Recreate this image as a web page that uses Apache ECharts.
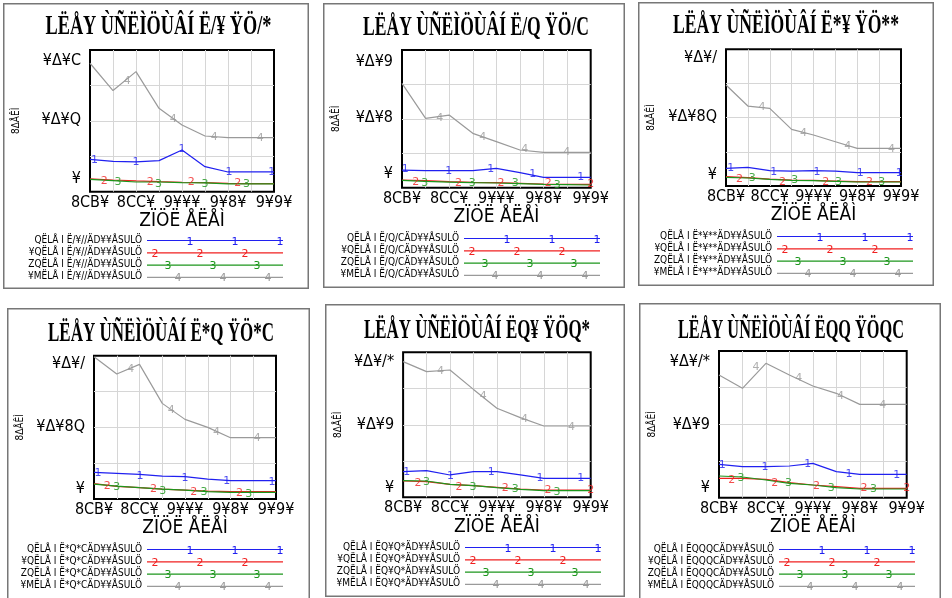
<!DOCTYPE html>
<html>
<head>
<meta charset="utf-8">
<script src="https://cdn.jsdelivr.net/npm/echarts@6/dist/echarts.min.js"></script>
<style>
html, body { margin: 0; padding: 0; background: #fff; width: 952px; height: 598px; overflow: hidden; }
.panel { position: absolute; }
</style>
</head>
<body>
<div id="p1" class="panel"></div>
<div id="p2" class="panel"></div>
<div id="p3" class="panel"></div>
<div id="p4" class="panel"></div>
<div id="p5" class="panel"></div>
<div id="p6" class="panel"></div>
<script>
// shared axis data
const years = [1980, 1985, 1990, 1995, 2000, 2005, 2010, 2015, 2020]
const xTickYears = [1980, 1990, 2000, 2010, 2020]
const xTickLabels = ['8CB¥', '8CC¥', '9¥¥¥', '9¥8¥', '9¥9¥']
const xName = 'ZÏÖË ÅËÅÌ'
const yName = '8ΔÅÊÌ'
const titles = [
    'LËÅY ÙÑËÌÖÙÂÍ Ë/¥ ŸÖ/*',
    'LËÅY ÙÑËÌÖÙÂÍ Ë/Q ŸÖ/C',
    'LËÅY ÙÑËÌÖÙÂÍ Ë*¥ ŸÖ**',
    'LËÅY ÙÑËÌÖÙÂÍ Ë*Q ŸÖ*C',
    'LËÅY ÙÑËÌÖÙÂÍ ËQ¥ ŸÖQ*',
    'LËÅY ÙÑËÌÖÙÂÍ ËQQ ŸÖQC'
]
const legendCodes = ['/¥//', '/Q/C', '*¥**', '*Q*C', 'Q¥Q*', 'QQQC']
const legendPrefixes = ['QËLÅ I Ë', '¥QËLÅ I Ë', 'ZQËLÅ I Ë', '¥MËLÅ I Ë']
const legendSuffix = 'ÄD¥¥ÅSULÖ'

// y tick values / labels
const yTicks1 = [0, 0.05, 0.1]
const yLabels1 = ['¥', '¥Δ¥Q', '¥Δ¥C']
const yTicks2 = [0, 0.01, 0.02]
const yLabels2 = ['¥', '¥Δ¥8', '¥Δ¥9']
const yTicks3 = [0, 0.015, 0.03]
const yLabels3 = ['¥', '¥Δ¥8Q', '¥Δ¥/']
const yTicks5 = [0, 0.02, 0.04]
const yLabels5 = ['¥', '¥Δ¥9', '¥Δ¥/*']

// panel 1
const p1Blue = [0.0169, 0.0152, 0.0147, 0.0158, 0.0248, 0.0107, 0.0062, 0.0062, 0.0062]
const p1Red = [0.0003, -0.0006, -0.0014, -0.0020, -0.0025, -0.0028, -0.0034, -0.0037, -0.0037]
const p1Green = [0.0000, -0.0011, -0.0023, -0.0023, -0.0028, -0.0031, -0.0039, -0.0039, -0.0039]
const p1Gray = [0.0981, 0.0750, 0.0910, 0.0600, 0.0459, 0.0366, 0.0352, 0.0352, 0.0352]
const p1BlueMarks = [[1981, 0.0163], [1990, 0.0144], [2000, 0.0256], [2010.2, 0.0059], [2019.5, 0.0059]]
const p1RedMarks = [[1983.1, -0.0014], [1993.1, -0.0020], [2002, -0.0028], [2012.1, -0.0034]]
const p1GreenMarks = [[1986.1, -0.0025], [1994.9, -0.0037], [2005, -0.0042], [2014, -0.0045]]
const p1GrayMarks = [[1988.1, 0.0831], [1998.1, 0.0510], [2007, 0.0355], [2017, 0.0347]]

// panel 2
const p2Blue = [0.00064, 0.00053, 0.00053, 0.00053, 0.00094, 0.00017, -0.00067, -0.00067, -0.00067]
const p2Red = [-0.00115, -0.00127, -0.00145, -0.00157, -0.00162, -0.00174, -0.00186, -0.00192, -0.00192]
const p2Green = [-0.00121, -0.00139, -0.00151, -0.00163, -0.00168, -0.00180, -0.00192, -0.00198, -0.00204]
const p2Gray = [0.01617, 0.00990, 0.01049, 0.00721, 0.00572, 0.00423, 0.00381, 0.00381, 0.00381]
const p2BlueMarks = [[1980.7, 0.00082], [1989.9, 0.00047], [1998.8, 0.00076], [2007.7, -0.00007], [2017.9, -0.00055]]
const p2RedMarks = [[1982.9, -0.00145], [1992, -0.00163], [2001, -0.00163], [2011, -0.00163], [2020, -0.00186]]
const p2GreenMarks = [[1984.8, -0.00163], [1994.9, -0.00174], [2004, -0.00174], [2012.9, -0.00204]]
const p2GrayMarks = [[1988, 0.00990], [1997.1, 0.00650], [2006, 0.00434], [2014.9, 0.00381]]

// panel 3
const p3Blue = [0.00174, 0.00200, 0.00115, 0.00106, 0.00115, 0.00106, 0.00064, 0.00064, 0.00064]
const p3Red = [-0.00038, -0.00064, -0.00098, -0.00123, -0.00132, -0.00149, -0.00166, -0.00166, -0.00166]
const p3Green = [-0.00055, -0.00072, -0.00106, -0.00132, -0.00140, -0.00157, -0.00174, -0.00174, -0.00174]
const p3Gray = [0.02299, 0.01763, 0.01704, 0.01169, 0.01024, 0.00854, 0.00684, 0.00684, 0.00684]
const p3BlueMarks = [[1981.1, 0.00174], [1990.9, 0.00089], [2000.8, 0.00089], [2010.7, 0.00047], [2019.6, 0.00047]]
const p3RedMarks = [[1983.1, -0.00098], [1992.9, -0.00166], [2002.8, -0.00166], [2012.8, -0.00166]]
const p3GreenMarks = [[1986, -0.00081], [1995.7, -0.00123], [2005.7, -0.00166], [2015.6, -0.00166]]
const p3GrayMarks = [[1988.2, 0.01746], [1997.7, 0.01084], [2007.8, 0.00744], [2017.8, 0.00667]]

// panel 4
const p4Blue = [0.00404, 0.00380, 0.00356, 0.00316, 0.00300, 0.00244, 0.00204, 0.00204, 0.00204]
const p4Red = [0.00132, 0.00068, 0.00036, 0.00004, -0.00020, -0.00044, -0.00060, -0.00060, -0.00060]
const p4Green = [0.00124, 0.00076, 0.00036, 0.00004, -0.00020, -0.00060, -0.00076, -0.00076, -0.00076]
const p4Gray = [0.03180, 0.02764, 0.02996, 0.02060, 0.01676, 0.01484, 0.01236, 0.01236, 0.01236]
const p4BlueMarks = [[1980.9, 0.00396], [1990.1, 0.00316], [2000, 0.00276], [2009.2, 0.00204], [2019.1, 0.00180]]
const p4RedMarks = [[1982.9, 0.00084], [1993.1, -0.00004], [2001.9, -0.00076], [2012, -0.00100]]
const p4GreenMarks = [[1985, 0.00060], [1995.1, -0.00044], [2004.2, -0.00076], [2014, -0.00124]]
const p4GrayMarks = [[1988.1, 0.02884], [1997, 0.01900], [2006.9, 0.01380], [2015.9, 0.01236]]

// panel 5
const p5Blue = [0.00505, 0.00536, 0.00400, 0.00505, 0.00505, 0.00400, 0.00293, 0.00293, 0.00293]
const p5Red = [0.00208, 0.00187, 0.00103, 0.00060, 0.00007, -0.00046, -0.00077, -0.00077, -0.00077]
const p5Green = [0.00219, 0.00208, 0.00103, 0.00060, -0.00003, -0.00056, -0.00098, -0.00098, -0.00098]
const p5Gray = [0.03997, 0.03679, 0.03732, 0.03116, 0.02516, 0.02219, 0.01955, 0.01955, 0.01955]
const p5BlueMarks = [[1980.8, 0.00505], [1990.1, 0.00367], [1998.8, 0.00484], [2009.2, 0.00293], [2017.9, 0.00293]]
const p5RedMarks = [[1983.2, 0.00134], [1991.9, 0.00029], [2001.8, -0.00024], [2010.9, -0.00077], [2020, -0.00077]]
const p5GreenMarks = [[1985, 0.00187], [1994.9, 0.00007], [2003.9, -0.00046], [2012.8, -0.00130]]
const p5GrayMarks = [[1988, 0.03706], [1997.1, 0.02912], [2005.9, 0.02161], [2015.9, 0.01929]]

// panel 6
const p6Blue = [0.00751, 0.00677, 0.00677, 0.00698, 0.00780, 0.00519, 0.00435, 0.00435, 0.00435]
const p6Red = [0.00308, 0.00308, 0.00277, 0.00172, 0.00098, 0.00045, -0.00007, -0.00007, -0.00007]
const p6Green = [0.00382, 0.00350, 0.00256, 0.00151, 0.00098, 0.00014, -0.00028, -0.00028, -0.00028]
const p6Gray = [0.03572, 0.03151, 0.03940, 0.03572, 0.03224, 0.02993, 0.02645, 0.02645, 0.02645]
const p6BlueMarks = [[1980.7, 0.00729], [1989.8, 0.00656], [1998.9, 0.00751], [2007.7, 0.00445], [2017.9, 0.00414]]
const p6RedMarks = [[1982.7, 0.00256], [1991.9, 0.00151], [2000.8, 0.00066], [2010.9, 0.00014], [2020, 0.00014]]
const p6GreenMarks = [[1984.7, 0.00308], [1994.8, 0.00151], [2003.9, 0.00014], [2012.9, -0.00039]]
const p6GrayMarks = [[1987.9, 0.03835], [1997, 0.03487], [2005.9, 0.02919], [2014.9, 0.02624]]

const colors = ['#2020f0', '#f02020', '#1c961c', '#9a9a9a']
const digits = ['1', '2', '3', '4']
// where the digits sit on each legend sample line
const legendMarkOffsets = [[43, 88, 133], [8, 53, 98], [21, 66, 110], [31, 76, 121]]
const labelFont = "'Liberation Sans Narrow', 'DejaVu Sans Condensed', 'Liberation Serif', serif"
const titleFont = "'Liberation Serif', 'DejaVu Serif', serif"

// panel boxes and plot areas (px), kept apart from the data
const panels = [
    { id: 'p1', box: [3, 3, 306, 286], grid: [84.3, 47, 186.7, 141.7], yRange: [-0.01048, 0.1093], yTicks: yTicks1, yLabels: yLabels1, title: [155.5, 24], yGap: 74, legend: [26, 231], lines: [p1Blue, p1Red, p1Green, p1Gray], marks: [p1BlueMarks, p1RedMarks, p1GreenMarks, p1GrayMarks] },
    { id: 'p2', box: [323, 3, 302, 285], grid: [73, 47, 194.7, 137.7], yRange: [-0.002526, 0.02214], yTicks: yTicks2, yLabels: yLabels2, title: [153, 25], yGap: 66, legend: [25, 229], lines: [p2Blue, p2Red, p2Green, p2Gray], marks: [p2BlueMarks, p2RedMarks, p2GreenMarks, p2GrayMarks] },
    { id: 'p3', box: [638, 2, 296, 284], grid: [80.7, 47.3, 182.3, 136.7], yRange: [-0.002754, 0.0321], yTicks: yTicks3, yLabels: yLabels3, title: [148, 24], yGap: 75, legend: [21, 228], lines: [p3Blue, p3Red, p3Green, p3Gray], marks: [p3BlueMarks, p3RedMarks, p3GreenMarks, p3GrayMarks] },
    { id: 'p4', box: [7, 308, 303, 300], grid: [80.3, 47.7, 188.7, 143.3], yRange: [-0.002352, 0.03204], yTicks: yTicks3, yLabels: yLabels3, title: [154, 26], yGap: 74, legend: [27, 235], lines: [p4Blue, p4Red, p4Green, p4Gray], marks: [p4BlueMarks, p4RedMarks, p4GreenMarks, p4GrayMarks] },
    { id: 'p5', box: [325, 304, 300, 293], grid: [72.3, 48.3, 193.4, 145], yRange: [-0.003089, 0.04294], yTicks: yTicks5, yLabels: yLabels5, title: [152, 27], yGap: 65, legend: [24, 237], lines: [p5Blue, p5Red, p5Green, p5Gray], marks: [p5BlueMarks, p5RedMarks, p5GreenMarks, p5GrayMarks] },
    { id: 'p6', box: [639, 303, 302, 300], grid: [73.7, 48, 194, 146.7], yRange: [-0.003031, 0.04329], yTicks: yTicks5, yLabels: yLabels5, title: [152, 28], yGap: 67, legend: [26, 240], lines: [p6Blue, p6Red, p6Green, p6Gray], marks: [p6BlueMarks, p6RedMarks, p6GreenMarks, p6GrayMarks] }
]

function legendIcon(color, digit, offsets) {
    let svg = '<svg xmlns="http://www.w3.org/2000/svg" width="136" height="12">' +
        '<line x1="0" y1="6.5" x2="136" y2="6.5" stroke="' + color + '" stroke-width="1.2"/>'
    offsets.forEach(o => {
        svg += '<text x="' + o + '" y="10.5" font-family="DejaVu Sans" font-size="11" fill="' + color + '" text-anchor="middle">' + digit + '</text>'
    })
    svg += '</svg>'
    return 'image://data:image/svg+xml;charset=utf-8,' + encodeURIComponent(svg)
}

const measureCtx = document.createElement('canvas').getContext('2d')
function titleScale(text, font, target) {
    measureCtx.font = font
    return target / measureCtx.measureText(text).width
}

panels.forEach((p, pi) => {
    const el = document.getElementById(p.id)
    el.style.left = p.box[0] + 'px'
    el.style.top = p.box[1] + 'px'
    el.style.width = p.box[2] + 'px'
    el.style.height = p.box[3] + 'px'
    const chart = echarts.init(el)

    const names = legendPrefixes.map(s => s + legendCodes[pi] + legendSuffix)
    const series = []
    p.lines.forEach((vals, k) => {
        series.push({
            name: names[k],
            type: 'line',
            data: years.map((y, i) => [y, vals[i]]),
            showSymbol: false,
            symbol: 'none',
            lineStyle: { color: colors[k], width: 1.2 },
            itemStyle: { color: colors[k] },
            z: 2
        })
    })
    p.marks.forEach((pts, k) => {
        series.push({
            name: 'mark' + k,
            type: 'scatter',
            data: pts,
            symbol: 'circle',
            symbolSize: 1,
            itemStyle: { color: 'rgba(0,0,0,0)' },
            label: {
                show: true,
                position: 'inside',
                formatter: digits[k],
                color: colors[k],
                fontSize: 11,
                fontFamily: 'DejaVu Sans'
            },
            silent: true,
            z: 3
        })
    })

    const tFont = 'bold 28px ' + titleFont
    chart.setOption({
        animation: false,
        backgroundColor: '#fff',
        graphic: [
            {
                type: 'rect',
                shape: { x: 0.75, y: 0.75, width: p.box[2] - 1.5, height: p.box[3] - 1.5 },
                style: { fill: 'none', stroke: '#777', lineWidth: 1.5 },
                silent: true
            },
            {
                type: 'text',
                x: p.title[0],
                y: p.title[1],
                scaleX: titleScale(titles[pi], tFont, 226),
                style: {
                    text: titles[pi],
                    font: tFont,
                    textAlign: 'center',
                    textVerticalAlign: 'middle',
                    align: 'center',
                    verticalAlign: 'middle',
                    fill: '#000'
                },
                silent: true
            }
        ],
        legend: {
            data: names.map((n, k) => ({ name: n, icon: legendIcon(colors[k], digits[k], legendMarkOffsets[k]) })),
            orient: 'vertical',
            align: 'right',
            right: p.legend[0],
            top: p.legend[1],
            itemWidth: 136,
            itemHeight: 12,
            itemGap: 0.3,
            padding: 0,
            selectedMode: false,
            textStyle: { fontSize: 10, lineHeight: 12, fontFamily: labelFont, color: '#000' }
        },
        grid: {
            left: p.grid[0],
            top: p.grid[1],
            width: p.grid[2],
            height: p.grid[3],
            show: true,
            borderColor: '#000',
            borderWidth: 2,
            backgroundColor: 'transparent'
        },
        xAxis: {
            type: 'value',
            min: 1980,
            max: 2020,
            interval: 5,
            axisLine: { show: false },
            axisTick: { show: false },
            splitLine: { show: true, showMinLine: false, showMaxLine: false, lineStyle: { color: '#d6d6d6', width: 1 } },
            axisLabel: {
                customValues: xTickYears,
                formatter: v => xTickLabels[xTickYears.indexOf(v)],
                fontSize: 16,
                margin: 3,
                color: '#000',
                fontFamily: labelFont
            },
            name: xName,
            nameLocation: 'middle',
            nameGap: 20,
            nameTextStyle: { fontSize: 19, color: '#000', fontFamily: labelFont }
        },
        yAxis: [
            {
                type: 'value',
                min: p.yRange[0],
                max: p.yRange[1],
                axisLine: { show: false },
                axisTick: { show: false },
                splitLine: { show: false },
                axisLabel: {
                    customValues: p.yTicks,
                    formatter: v => {
                        const i = p.yTicks.findIndex(t => Math.abs(t - v) < 1e-9)
                        return i >= 0 ? p.yLabels[i] : ''
                    },
                    fontSize: 16,
                    margin: 9,
                    color: '#000',
                    fontFamily: labelFont
                },
                name: yName,
                nameLocation: 'middle',
                nameGap: p.yGap - 5,
                nameTextStyle: { fontSize: 10, color: '#000', fontFamily: labelFont }
            },
            {
                // only for the 4 even grid bands
                type: 'value',
                min: 0,
                max: 4,
                interval: 1,
                position: 'left',
                axisLine: { show: false },
                axisTick: { show: false },
                axisLabel: { show: false },
                splitLine: { show: true, showMinLine: false, showMaxLine: false, lineStyle: { color: '#d6d6d6', width: 1 } }
            }
        ],
        series: series
    })
})
</script>
</body>
</html>
